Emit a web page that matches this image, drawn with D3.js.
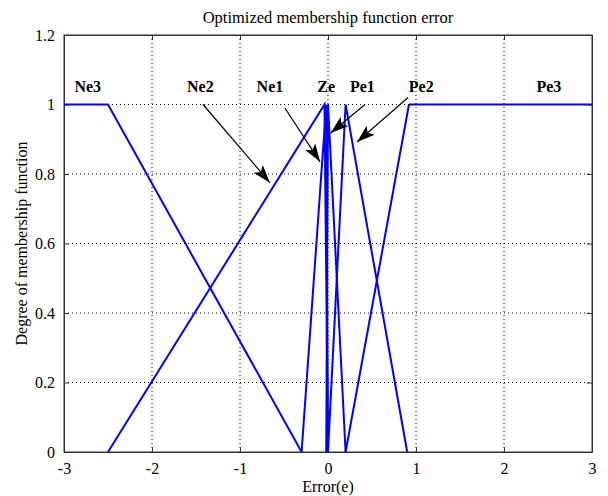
<html>
  <head>
    <meta charset="utf-8" />
    <title>Optimized membership function error</title>
    <script src="https://cdn.jsdelivr.net/npm/d3@7"></script>
    <style>
      body { margin: 0; background: #fff; }
      svg text { font-family: "Liberation Serif", "Times New Roman", "DejaVu Serif", serif; fill: #000; }
    </style>
  </head>
  <body>
    <div id="chart"></div>
    <script type="text/javascript">
      // membership functions, [error, degree] pairs
      var ne3 = [[-3, 1], [-2.5, 1], [-0.3, 0]];
      var ne2 = [[-2.5, 0], [-0.04, 1], [0, 0]];
      var ne1 = [[-0.3, 0], [-0.02, 1], [0, 0]];
      var ze = [[-0.02, 0], [0, 1], [0.2, 0]];
      var pe1 = [[0, 0], [0.2, 1], [0.9, 0]];
      var pe2 = [[0.2, 0], [0.92, 1]];
      var pe3 = [[0.92, 1], [3, 1]];

      var xTicks = [-3, -2, -1, 0, 1, 2, 3];
      var yTicks = [0, 0.2, 0.4, 0.6, 0.8, 1, 1.2];

      // label text and its position in data units
      var labelNames = ["Ne3", "Ne2", "Ne1", "Ze", "Pe1", "Pe2", "Pe3"];
      var labelX = [-2.73, -1.45, -0.66, -0.02, 0.39, 1.06, 2.51];
      var labelY = 1.035;

      // arrows: start -> tip, data units
      var arrows = [
        [[-1.42, 1.0], [-0.66, 0.775]],
        [[-0.49, 0.99], [-0.09, 0.835]],
        [[0.42, 1.0], [0.03, 0.918]],
        [[0.91, 1.02], [0.33, 0.892]]
      ];

      var width = 608;
      var height = 496;
      var margin = { top: 35, right: 16, bottom: 44, left: 64 };
      var w = width - margin.left - margin.right;
      var h = height - margin.top - margin.bottom;
      var serif = "'Liberation Serif', 'Times New Roman', 'DejaVu Serif', serif";

      var svg = d3
        .select("#chart")
        .append("svg")
        .attr("width", width)
        .attr("height", height)
        .attr("font-family", serif);

      var defs = svg.append("defs");
      defs
        .append("marker")
        .attr("id", "head")
        .attr("viewBox", "0 0 18 12")
        .attr("refX", 18)
        .attr("refY", 6)
        .attr("markerWidth", 18)
        .attr("markerHeight", 12)
        .attr("markerUnits", "userSpaceOnUse")
        .attr("orient", "auto")
        .append("path")
        .attr("d", "M0,0 L18,6 L0,12 L4,6 Z")
        .attr("fill", "#000");

      var g = svg
        .append("g")
        .attr("transform", "translate(" + margin.left + "," + margin.top + ")");

      var x = d3.scaleLinear().domain([-3, 3]).range([0, w]);
      var y = d3.scaleLinear().domain([0, 1.2]).range([h, 0]);

      // dotted grid
      g.append("g")
        .selectAll("line")
        .data(xTicks.slice(1, -1))
        .enter()
        .append("line")
        .attr("x1", function (d) { return x(d); })
        .attr("x2", function (d) { return x(d); })
        .attr("y1", 0)
        .attr("y2", h)
        .attr("stroke", "#000")
        .attr("stroke-width", 1)
        .attr("stroke-dasharray", "1,3");

      g.append("g")
        .selectAll("line")
        .data(yTicks.slice(1, -1))
        .enter()
        .append("line")
        .attr("x1", 0)
        .attr("x2", w)
        .attr("y1", function (d) { return y(d); })
        .attr("y2", function (d) { return y(d); })
        .attr("stroke", "#000")
        .attr("stroke-width", 1)
        .attr("stroke-dasharray", "1,3");

      // axes with inward ticks, plain hyphen for minus like matlab
      var fmt = function (d) { return String(d); };
      g.append("g")
        .attr("transform", "translate(0," + h + ")")
        .call(
          d3.axisBottom(x).tickValues(xTicks).tickFormat(fmt).tickSizeInner(-5).tickSizeOuter(0).tickPadding(11)
        );
      g.append("g")
        .call(
          d3.axisLeft(y).tickValues(yTicks).tickFormat(fmt).tickSizeInner(-5).tickSizeOuter(0).tickPadding(9)
        );
      g.append("g")
        .call(d3.axisTop(x).tickValues(xTicks).tickSizeInner(-5).tickSizeOuter(0).tickFormat(""));
      g.append("g")
        .attr("transform", "translate(" + w + ",0)")
        .call(d3.axisRight(y).tickValues(yTicks).tickSizeInner(-5).tickSizeOuter(0).tickFormat(""));

      g.selectAll(".tick").each(function () {
        d3.select(this.parentNode).attr("font-family", serif).attr("font-size", 16);
      });
      g.selectAll(".domain").attr("stroke", "#333");
      g.selectAll(".tick line").attr("stroke", "#333");
      g.selectAll(".tick text").attr("fill", "#000");

      g.append("rect")
        .attr("width", w)
        .attr("height", h)
        .attr("fill", "none")
        .attr("stroke", "#333")
        .attr("stroke-width", 1);

      // membership curves
      var line = d3
        .line()
        .x(function (d) { return x(d[0]); })
        .y(function (d) { return y(d[1]); });

      g.append("g")
        .selectAll("path")
        .data([ne3, ne2, ne1, ze, pe1, pe2, pe3])
        .enter()
        .append("path")
        .attr("d", line)
        .attr("fill", "none")
        .attr("stroke", "#0000ff")
        .attr("stroke-width", 2)
        .attr("stroke-linejoin", "miter");

      // annotation arrows
      g.append("g")
        .selectAll("line")
        .data(arrows)
        .enter()
        .append("line")
        .attr("x1", function (d) { return x(d[0][0]); })
        .attr("y1", function (d) { return y(d[0][1]); })
        .attr("x2", function (d) { return x(d[1][0]); })
        .attr("y2", function (d) { return y(d[1][1]); })
        .attr("stroke", "#000")
        .attr("stroke-width", 1.2)
        .attr("marker-end", "url(#head)");

      g.append("g")
        .selectAll("text")
        .data(labelNames)
        .enter()
        .append("text")
        .attr("x", function (d, i) { return x(labelX[i]); })
        .attr("y", y(labelY))
        .attr("text-anchor", "middle")
        .style("font-size", "16px")
        .style("font-weight", "bold")
        .text(function (d) { return d; });

      // title and axis labels
      svg.append("text")
        .attr("x", margin.left + w / 2)
        .attr("y", 23)
        .attr("text-anchor", "middle")
        .style("font-size", "16.5px")
        .text("Optimized membership function error");

      svg.append("text")
        .attr("x", margin.left + w / 2)
        .attr("y", 492)
        .attr("text-anchor", "middle")
        .style("font-size", "16px")
        .text("Error(e)");

      svg.append("text")
        .attr("transform", "translate(27," + (margin.top + h / 2) + ") rotate(-90)")
        .attr("text-anchor", "middle")
        .style("font-size", "16px")
        .text("Degree of membership function");
    </script>
  </body>
</html>
